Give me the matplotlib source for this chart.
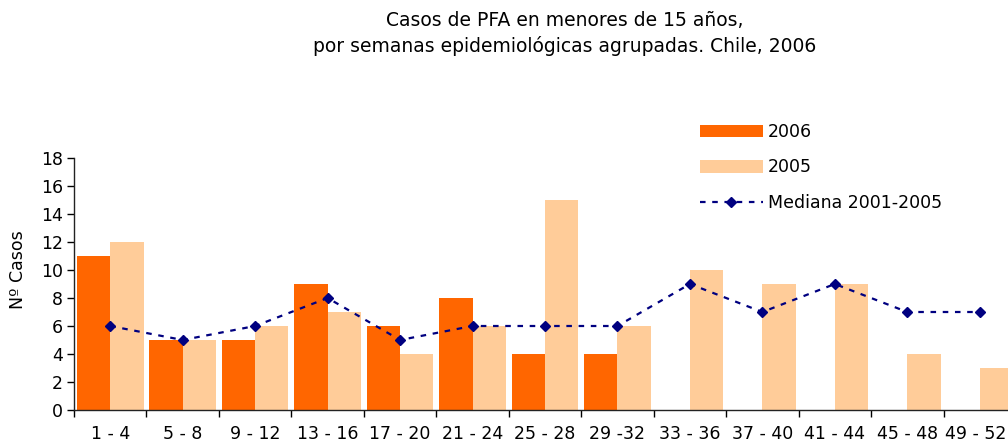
import matplotlib
matplotlib.use("Agg")
import matplotlib.pyplot as plt
import matplotlib.transforms as mtransforms
import numpy as np

categories = ["1 - 4", "5 - 8", "9 - 12", "13 - 16", "17 - 20", "21 - 24", "25 - 28",
              "29 -32", "33 - 36", "37 - 40", "41 - 44", "45 - 48", "49 - 52"]
casos_2006 = [11, 5, 5, 9, 6, 8, 4, 4, 0, 0, 0, 0, 0]
casos_2005 = [12, 5, 6, 7, 4, 6, 15, 6, 10, 9, 9, 4, 3]
mediana = [6, 5, 6, 8, 5, 6, 6, 6, 9, 7, 9, 7, 7]

plt.rcParams['font.family'] = ['DejaVu Sans']
FS = 12.5

fig = plt.figure(figsize=(10.08, 4.44), dpi=100)
W, H = 1008, 444
ax = fig.add_axes([74 / W, (H - 410) / H, 942 / W, 252 / H])

x = np.arange(len(categories))
bw = 0.46
b1 = ax.bar(x - bw / 2, casos_2006, width=bw, color="#FF6600", label="2006")
b2 = ax.bar(x + bw / 2, casos_2005, width=bw, color="#FFCC99", label="2005")
l1, = ax.plot(x, mediana, color="#000080", linestyle=(0, (2.5, 3)), linewidth=1.6,
              marker="D", markersize=5.5, label="Mediana 2001-2005")

ax.set_xlim(-0.5, len(categories) - 0.5)
ax.set_ylim(0, 18)
ax.set_yticks(range(0, 19, 2))
ax.set_xticks(x)
ax.set_xticklabels(categories)
ax.set_xticks(np.arange(-0.5, len(categories), 1), minor=True)
ax.tick_params(axis="x", which="major", length=0, pad=10.5, labelsize=FS)
ax.tick_params(axis="x", which="minor", length=5, direction="out", width=1)
ax.tick_params(axis="y", length=5, direction="out", width=1, labelsize=FS, pad=3)
for s in ["top", "right"]:
    ax.spines[s].set_visible(False)
for s in ["left", "bottom"]:
    ax.spines[s].set_linewidth(1)
    ax.spines[s].set_color("#222222")

# keep the last label inside the picture
last = ax.get_xticklabels()[-1]
last.set_transform(last.get_transform() +
                   mtransforms.ScaledTranslation(-4 / 100, 0, fig.dpi_scale_trans))

ax.set_ylabel("Nº Casos", fontsize=FS)
ax.yaxis.set_label_coords(-0.05, 0.556)

fig.text(565 / W, 1 - 20 / H, "Casos de PFA en menores de 15 años,", ha="center",
         va="center", fontsize=13.5)
fig.text(565 / W, 1 - 46 / H, "por semanas epidemiológicas agrupadas. Chile, 2006",
         ha="center", va="center", fontsize=13.5)

fig.legend(handles=[b1, b2, l1], loc="upper left",
           bbox_to_anchor=(700 / W, 1 - 123 / H), frameon=False, fontsize=FS,
           handlelength=3.6, handleheight=0.75, handletextpad=0.3, labelspacing=1.0,
           borderpad=0, borderaxespad=0)

fig.savefig("out.png", dpi=100)
